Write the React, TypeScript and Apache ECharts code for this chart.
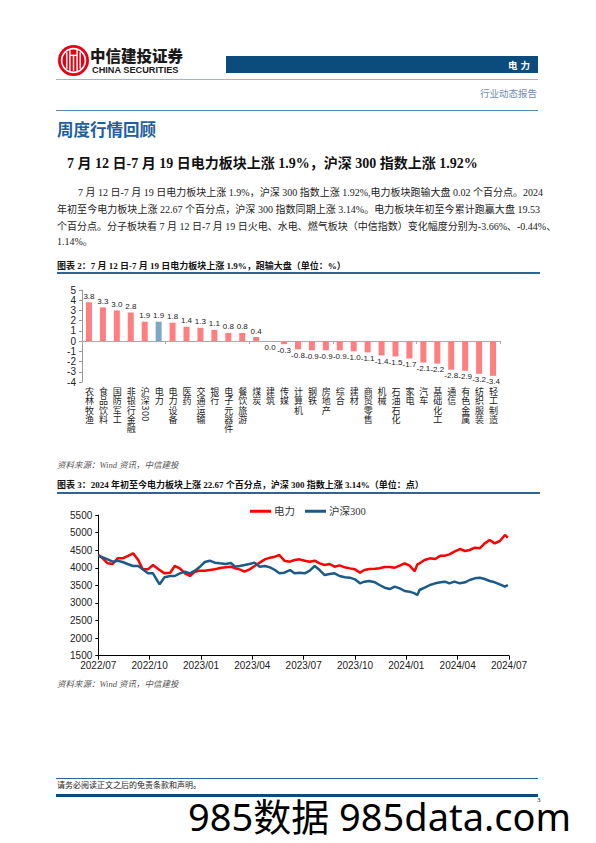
import React, { useEffect, useRef, useState } from "react";
import * as echarts from "echarts";

// ---------- Figure 2 data ----------
const barCategories = [
  "农林牧渔", "食品饮料", "国防军工", "非银行金融", "沪深300", "电力", "电力设备", "医药",
  "交通运输", "银行", "电子元器件", "餐饮旅游", "煤炭", "建筑", "传媒", "计算机", "钢铁",
  "房地产", "综合", "建材", "商贸零售", "机械", "石油石化", "家电", "汽车", "基础化工",
  "通信", "有色金属", "纺织服装", "轻工制造",
];
const barValues = [
  3.8, 3.3, 3.0, 2.8, 1.9, 1.9, 1.8, 1.4, 1.3, 1.1, 0.8, 0.8, 0.4, 0.0, -0.3, -0.8, -0.9,
  -0.9, -0.9, -1.0, -1.1, -1.4, -1.5, -1.7, -2.1, -2.2, -2.8, -2.9, -3.2, -3.4,
];
const highlightCategory = "电力";
const barAxisMin = -4;
const barAxisMax = 5;

// ---------- Figure 3 data ----------
const lineDates = [
  "2022-07-01", "2022-07-09", "2022-07-18", "2022-07-27", "2022-08-05", "2022-08-14", "2022-08-23",
  "2022-09-02", "2022-09-11", "2022-09-19", "2022-09-28", "2022-10-07", "2022-10-19", "2022-10-28",
  "2022-11-07", "2022-11-15", "2022-11-24", "2022-12-03", "2022-12-12", "2022-12-21", "2022-12-29",
  "2023-01-08", "2023-01-17", "2023-01-26", "2023-02-04", "2023-02-13", "2023-02-22", "2023-03-01",
  "2023-03-09", "2023-03-18", "2023-03-27", "2023-04-05", "2023-04-14", "2023-04-23", "2023-05-02",
  "2023-05-11", "2023-05-19", "2023-05-28", "2023-06-07", "2023-06-15", "2023-06-24", "2023-07-03",
  "2023-07-12", "2023-07-21", "2023-07-30", "2023-08-08", "2023-08-17", "2023-08-26", "2023-09-04",
  "2023-09-13", "2023-09-22", "2023-10-01", "2023-10-10", "2023-10-18", "2023-10-27", "2023-11-06",
  "2023-11-14", "2023-11-23", "2023-12-02", "2023-12-11", "2023-12-20", "2023-12-29", "2024-01-07",
  "2024-01-16", "2024-01-21", "2024-01-25", "2024-02-03", "2024-02-12", "2024-02-21", "2024-03-01",
  "2024-03-09", "2024-03-17", "2024-03-26", "2024-04-05", "2024-04-14", "2024-04-22", "2024-05-01",
  "2024-05-10", "2024-05-19", "2024-05-28", "2024-06-06", "2024-06-15", "2024-06-24", "2024-06-29",
];
const powerValues = [
  4360, 4268, 4126, 4107, 4268, 4268, 4334, 4410, 4220, 3955, 3955, 4078, 3936, 3841,
  3860, 4050, 3983, 3841, 3766, 3889, 3917, 3917, 3936, 3955, 3993, 4012, 4031, 3983,
  3955, 3889, 3955, 4050, 4145, 4239, 4287, 4315, 4363, 4201, 4173, 4220, 4239, 4201,
  4173, 4201, 4126, 4078, 4107, 4031, 4069, 4012, 3983, 3955, 3860, 3936, 3965, 3974,
  3984, 4022, 4022, 4003, 4060, 4126, 4060, 3900, 4097, 4126, 4221, 4268, 4249, 4344,
  4344, 4382, 4457, 4533, 4476, 4505, 4571, 4552, 4694, 4789, 4694, 4761, 4931, 4855,
];
const csi300Values = [
  4340, 4296, 4240, 4173, 4201, 4164, 4107, 4050, 4050, 3955, 3841, 3841, 3529, 3728,
  3766, 3766, 3841, 3889, 3841, 3917, 4012, 4164, 4201, 4145, 4126, 4107, 4135, 4031,
  4050, 4078, 4107, 4145, 4031, 4050, 4012, 3936, 3841, 3860, 3936, 3841, 3860, 3841,
  3917, 4050, 3936, 3794, 3822, 3841, 3766, 3728, 3718, 3671, 3557, 3604, 3624, 3586,
  3510, 3434, 3396, 3462, 3415, 3339, 3320, 3273, 3226, 3368, 3434, 3510, 3557, 3586,
  3605, 3557, 3605, 3557, 3586, 3652, 3699, 3718, 3680, 3624, 3586, 3529, 3462, 3510,
];
const lineXTickLabels = [
  "2022/07", "2022/10", "2023/01", "2023/04", "2023/07", "2023/10", "2024/01", "2024/04", "2024/07",
];
const lineSeriesNames = ["电力", "沪深300"];

const SERIF = '"Liberation Serif", "Noto Sans CJK SC", serif';
const SANS_CJK = '"Noto Sans CJK SC", sans-serif';
const ARIAL = '"Liberation Sans", Arial, sans-serif';

function monthIndex(d: string): number {
  const [y, m, day] = d.split("-").map(Number);
  const dim = new Date(y, m, 0).getDate();
  return (y - 2022) * 12 + (m - 7) + (day - 1) / dim;
}

function BarChart() {
  const ref = useRef<HTMLDivElement>(null);
  const [labelPos, setLabelPos] = useState<{ xs: number[]; y: number } | null>(null);
  useEffect(() => {
    const chart = echarts.init(ref.current!, undefined, { renderer: "svg" });
    chart.setOption({
      animation: false,
      grid: { left: 82, right: 96, top: 10, height: 92 },
      xAxis: [
        {
          type: "category",
          data: barCategories,
          position: "bottom",
          axisLine: { show: false, onZero: false },
          axisTick: { show: false },
          axisLabel: { show: false },
        },
        {
          type: "category",
          data: barCategories,
          position: "bottom",
          axisLine: { show: true, onZero: true, lineStyle: { color: "#aaa", width: 1 } },
          axisTick: { show: true, length: 3, lineStyle: { color: "#aaa" } },
          axisLabel: { show: false },
        },
      ],
      yAxis: {
        type: "value",
        min: barAxisMin,
        max: barAxisMax,
        interval: 1,
        axisLine: { show: true, lineStyle: { color: "#999" } },
        axisTick: { show: true, length: 3, lineStyle: { color: "#999" } },
        axisLabel: { fontSize: 10, color: "#222", margin: 6, fontFamily: ARIAL },
        splitLine: { show: false },
      },
      series: [
        {
          type: "bar",
          xAxisIndex: 0,
          barWidth: 6,
          data: barValues.map((v, i) => ({
            value: v,
            itemStyle: { color: barCategories[i] === highlightCategory ? "#7da7c9" : "#ff7f80" },
            label: { position: v > 0 ? "top" : "bottom" },
          })),
          label: {
            show: true,
            formatter: (p: any) => Number(p.value).toFixed(1),
            fontSize: 8,
            color: "#222",
            distance: 2,
            fontFamily: ARIAL,
          },
        },
      ],
    });
    // category labels are written vertically (like the reference); place them with the chart's own scales
    const xs = barCategories.map((_, i) => Number(chart.convertToPixel({ xAxisIndex: 0 }, i)));
    const y = Number(chart.convertToPixel({ yAxisIndex: 0 }, barAxisMin));
    setLabelPos({ xs, y });
    return () => chart.dispose();
  }, []);
  return (
    <div style={{ position: "absolute", left: 0, top: 280, width: 596, height: 180 }}>
      <div ref={ref} style={{ position: "absolute", left: 0, top: 0, width: 596, height: 180 }} />
      {labelPos &&
        barCategories.map((c, i) => (
          <div
            key={c}
            style={{
              position: "absolute",
              left: labelPos.xs[i] - 5,
              top: labelPos.y + 5,
              width: 10,
              writingMode: "vertical-rl",
              fontSize: 9,
              lineHeight: "10px",
              letterSpacing: 0.3,
              fontFamily: SANS_CJK,
              color: "#222",
              whiteSpace: "nowrap",
            }}
          >
            {c}
          </div>
        ))}
    </div>
  );
}

function LineChart() {
  const ref = useRef<HTMLDivElement>(null);
  useEffect(() => {
    const chart = echarts.init(ref.current!, undefined, { renderer: "svg" });
    const colors = ["#ff0000", "#1b5a89"];
    const values = [powerValues, csi300Values];
    chart.setOption({
      animation: false,
      legend: {
        top: 6,
        left: 245,
        itemWidth: 21,
        itemHeight: 3,
        itemGap: 10,
        icon: "rect",
        data: lineSeriesNames,
        textStyle: { fontSize: 10.5, color: "#333", fontFamily: SERIF, padding: [0, 0, 0, -2] },
      },
      grid: { left: 98.3, right: 87, top: 20, bottom: 24.3 },
      xAxis: {
        type: "value",
        min: 0,
        max: 24,
        interval: 3,
        axisLine: { show: true, onZero: false, lineStyle: { color: "#000", width: 1 } },
        axisTick: { show: true, length: 4, lineStyle: { color: "#000" } },
        axisLabel: {
          formatter: (v: number) => lineXTickLabels[Math.round(v / 3)] ?? "",
          fontSize: 10,
          color: "#222",
          margin: 5,
          fontFamily: ARIAL,
        },
        splitLine: { show: false },
      },
      yAxis: {
        type: "value",
        min: 1500,
        max: 5500,
        interval: 500,
        axisLine: { show: true, lineStyle: { color: "#000", width: 1 } },
        axisTick: { show: true, length: 3, lineStyle: { color: "#000" } },
        axisLabel: { fontSize: 10, color: "#222", margin: 6, fontFamily: ARIAL, formatter: (v: number) => String(v) },
        splitLine: { show: false },
      },
      series: lineSeriesNames.map((name, k) => ({
        name,
        type: "line",
        showSymbol: false,
        symbol: "none",
        data: lineDates.map((d, i) => [monthIndex(d), values[k][i]]),
        lineStyle: { width: 2.5, color: colors[k] },
        itemStyle: { color: colors[k] },
      })),
    });
    return () => chart.dispose();
  }, []);
  return <div ref={ref} style={{ position: "absolute", left: 0, top: 495, width: 596, height: 185 }} />;
}

function Txt(props: { x: number; y: number; size: number; lh?: number; style?: React.CSSProperties; children: React.ReactNode }) {
  const lh = props.lh ?? Math.round(props.size * 1.3);
  return (
    <div
      style={{
        position: "absolute",
        left: props.x,
        top: props.y - lh / 2,
        fontSize: props.size,
        lineHeight: lh + "px",
        whiteSpace: "nowrap",
        ...props.style,
      }}
    >
      {props.children}
    </div>
  );
}

function Rule(props: { x: number; y: number; w: number; h: number; c: string }) {
  return <div style={{ position: "absolute", left: props.x, top: props.y, width: props.w, height: props.h, background: props.c }} />;
}

function Justified(props: { x: number; y: number; w: number; children: React.ReactNode }) {
  return (
    <div
      style={{
        position: "absolute",
        left: props.x,
        top: props.y - 7,
        width: props.w,
        fontSize: 10,
        lineHeight: "14px",
        whiteSpace: "nowrap",
        textAlign: "justify",
        textAlignLast: "justify",
        fontFamily: SERIF,
        color: "#222",
      }}
    >
      {props.children}
    </div>
  );
}

export default function App() {
  const caption: React.CSSProperties = { fontFamily: SERIF, fontWeight: 700, color: "#111" };
  const source: React.CSSProperties = { fontFamily: SERIF, fontStyle: "italic", color: "#555" };
  return (
    <div style={{ position: "absolute", left: 0, top: 0, width: 596, height: 843, background: "#fff", overflow: "hidden" }}>
      {/* Header */}
      <svg style={{ position: "absolute", left: 57, top: 44 }} width={33} height={33} viewBox="0 0 32 32">
        <circle cx={16} cy={16} r={15} fill="#e60012" />
        <circle cx={16} cy={16} r={11.5} fill="none" stroke="#fff" strokeWidth={1.6} />
        <g stroke="#fff" strokeWidth={1.4} fill="none">
          <line x1={9.5} y1={8} x2={9.5} y2={24} />
          <line x1={12.5} y1={5.5} x2={12.5} y2={26.5} />
          <line x1={19.5} y1={5.5} x2={19.5} y2={26.5} />
          <line x1={22.5} y1={8} x2={22.5} y2={24} />
          <line x1={12.5} y1={11} x2={19.5} y2={11} />
          <line x1={16} y1={11} x2={16} y2={26} />
        </g>
      </svg>
      <Txt x={90} y={55.5} size={15.5} lh={17} style={{ fontFamily: SANS_CJK, fontWeight: 900, color: "#1a1a1a" }}>
        中信建投证券
      </Txt>
      <Txt x={92} y={69.5} size={9.2} lh={10} style={{ fontFamily: ARIAL, fontWeight: 700, color: "#1a1a1a" }}>
        CHINA SECURITIES
      </Txt>
      <Rule x={226} y={56} w={312} h={17} c="#0b4c7c" />
      <Txt x={508} y={65} size={9.5} lh={12} style={{ fontFamily: SANS_CJK, fontWeight: 700, color: "#fff", letterSpacing: 3 }}>
        电力
      </Txt>
      <Rule x={56} y={78.5} w={482} h={1.5} c="#9fb6cc" />
      <div
        style={{
          position: "absolute",
          right: 596 - 537,
          top: 93.5 - 6.5,
          fontSize: 9.5,
          lineHeight: "13px",
          color: "#6f8db3",
          fontFamily: SANS_CJK,
          whiteSpace: "nowrap",
        }}
      >
        行业动态报告
      </div>
      <Rule x={56} y={110} w={482} h={1} c="#5a87b0" />

      {/* Section title */}
      <Txt x={57} y={129} size={16.5} lh={20} style={{ fontFamily: SANS_CJK, fontWeight: 700, color: "#1e5f9e" }}>
        周度行情回顾
      </Txt>
      <Txt x={67} y={163.5} size={14} lh={18} style={{ fontFamily: SERIF, fontWeight: 700, color: "#111" }}>
        7 月 12 日-7 月 19 日电力板块上涨 1.9%，沪深 300 指数上涨 1.92%
      </Txt>

      {/* Paragraph */}
      <Justified x={78} y={193.3} w={462}>
        7 月 12 日-7 月 19 日电力板块上涨 1.9%，沪深 300 指数上涨 1.92%,电力板块跑输大盘 0.02 个百分点。2024
      </Justified>
      <Justified x={57} y={210} w={483}>
        年初至今电力板块上涨 22.67 个百分点，沪深 300 指数同期上涨 3.14%。电力板块年初至今累计跑赢大盘 19.53
      </Justified>
      <Justified x={57} y={226.5} w={486}>
        个百分点。分子板块看 7 月 12 日-7 月 19 日火电、水电、燃气板块（中信指数）变化幅度分别为-3.66%、-0.44%、
      </Justified>
      <Txt x={57} y={242} size={10} lh={14} style={{ fontFamily: SERIF, color: "#222" }}>
        1.14%。
      </Txt>

      {/* Figure 2 */}
      <Txt x={57} y={265.5} size={9} lh={12} style={caption}>
        图表 2：7 月 12 日-7 月 19 日电力板块上涨 1.9%，跑输大盘（单位：%）
      </Txt>
      <Rule x={57} y={272} w={483} h={1.5} c="#2f6496" />
      <BarChart />
      <Txt x={57} y={465} size={8.5} lh={12} style={source}>
        资料来源：Wind 资讯，中信建投
      </Txt>

      {/* Figure 3 */}
      <Txt x={57} y={485} size={9} lh={12} style={caption}>
        图表 3：2024 年初至今电力板块上涨 22.67 个百分点，沪深 300 指数上涨 3.14%（单位：点）
      </Txt>
      <Rule x={57} y={492} w={483} h={1.5} c="#2f6496" />
      <LineChart />
      <Txt x={57} y={684} size={8.5} lh={12} style={source}>
        资料来源：Wind 资讯，中信建投
      </Txt>

      {/* Footer */}
      <Rule x={56} y={778} w={482} h={1} c="#2f6496" />
      <Txt x={57} y={785.5} size={8} lh={11} style={{ fontFamily: SERIF, color: "#222" }}>
        请务必阅读正文之后的免责条款和声明。
      </Txt>
      <Rule x={56} y={794} w={482} h={3} c="#0b4c7c" />
      <Txt x={537} y={800} size={7} lh={8} style={{ fontFamily: SERIF, color: "#222" }}>
        3
      </Txt>
      <Txt x={188} y={816} size={38} lh={52} style={{ fontFamily: '"Noto Sans", "Noto Sans CJK SC", sans-serif', color: "#000" }}>
        985数据 985data.com
      </Txt>
    </div>
  );
}
